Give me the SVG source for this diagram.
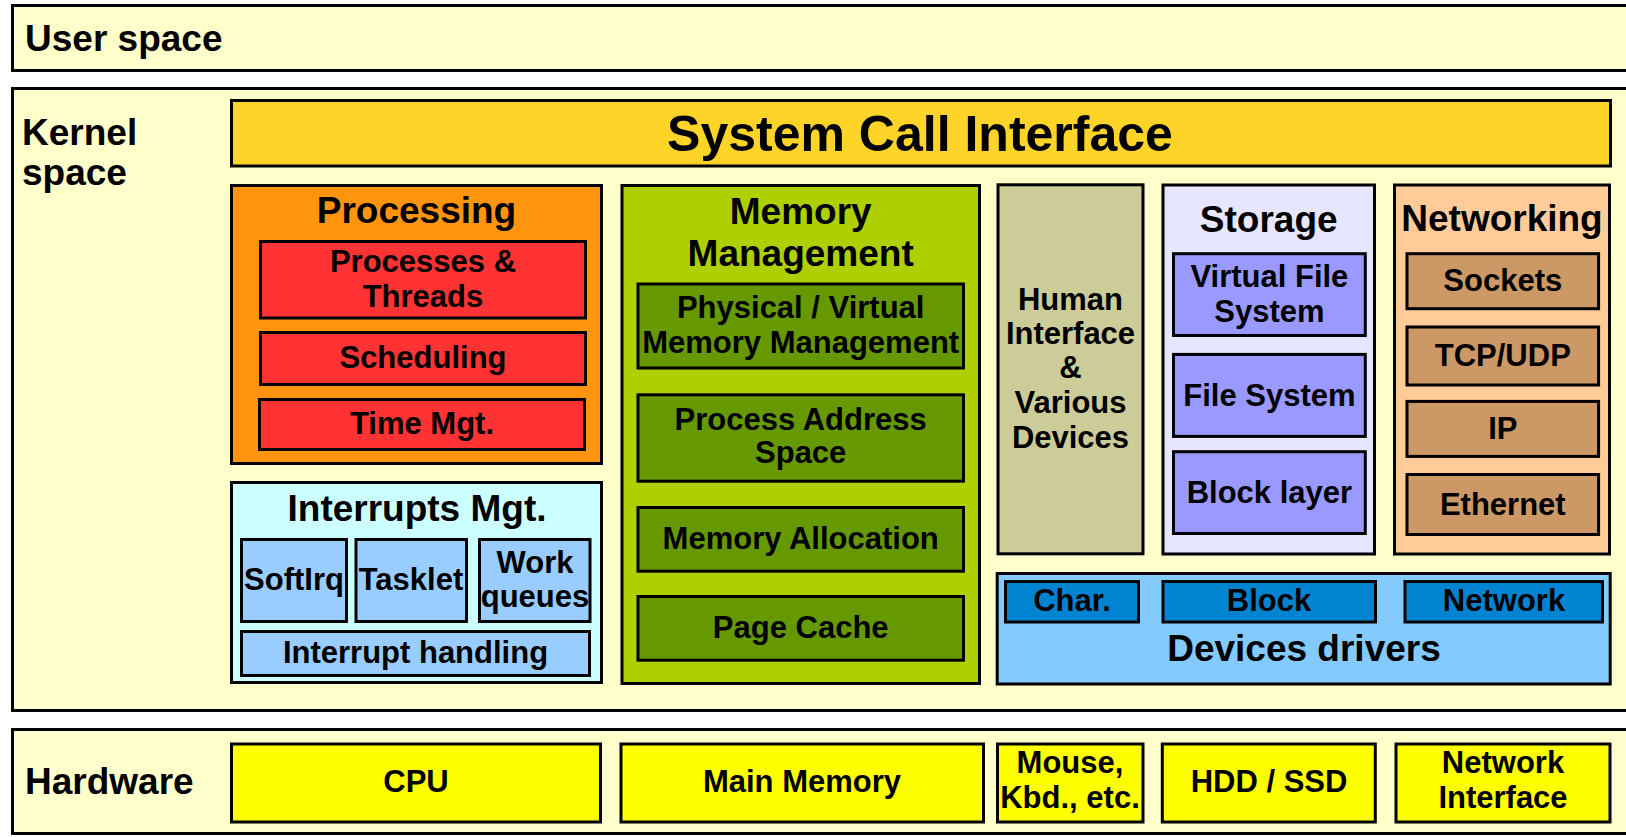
<svg xmlns="http://www.w3.org/2000/svg" width="1626" height="837" viewBox="0 0 1626 837">
<style>
rect{stroke:#000;stroke-width:3}
text{font-family:"Liberation Sans",Arial,sans-serif;font-weight:bold;fill:#000;text-anchor:middle}
.t{font-size:37px}
.l{text-anchor:start}
.s{font-size:31px}
.bg{fill:#ffffcc}
.sci{fill:#ffd428}
.proc{fill:#ff950e}
.procs{fill:#ff3333}
.irq{fill:#ccffff}
.irqs{fill:#99ccff}
.mem{fill:#aecf00}
.mems{fill:#669900}
.hid{fill:#cccc99}
.sto{fill:#e6e6ff}
.stos{fill:#9999ff}
.net{fill:#ffcc99}
.nets{fill:#cc9966}
.drv{fill:#83caff}
.drvs{fill:#0084d1}
.hw{fill:#ffff00}
</style>
<rect x="0" y="0" width="1626" height="837" fill="#fff" style="stroke:none"/>

<g id="user-space">
<rect class="bg" x="12.5" y="5.5" width="1640" height="65"/>
<text class="t l" x="25" y="50.5">User space</text>
</g>

<g id="kernel-space">
<rect class="bg" x="12.5" y="88.5" width="1640" height="622"/>
<text class="t l" x="22" y="145">Kernel</text>
<text class="t l" x="22" y="184.5">space</text>
</g>

<g id="system-call-interface">
<rect class="sci" x="231.5" y="100.5" width="1379" height="65.5"/>
<text x="920" y="151" style="font-size:50px">System Call Interface</text>
</g>

<g id="processing">
<rect class="proc" x="231.5" y="185.5" width="370" height="278"/>
<text class="t" x="416.5" y="223">Processing</text>
</g>
<g id="processes-threads">
<rect class="procs" x="260.5" y="241.5" width="325" height="76.5"/>
<text class="s" x="423" y="272">Processes &amp;</text>
<text class="s" x="423" y="307">Threads</text>
</g>
<g id="scheduling">
<rect class="procs" x="260.5" y="332.5" width="325" height="52"/>
<text class="s" x="423" y="368">Scheduling</text>
</g>
<g id="time-mgt">
<rect class="procs" x="259.5" y="399.5" width="325" height="50"/>
<text class="s" x="422" y="434">Time Mgt.</text>
</g>

<g id="interrupts-mgt">
<rect class="irq" x="231.5" y="482.5" width="370" height="200"/>
<text class="t" x="417" y="521">Interrupts Mgt.</text>
</g>
<g id="softirq">
<rect class="irqs" x="241.5" y="539.5" width="105" height="82"/>
<text class="s" x="294" y="590">SoftIrq</text>
</g>
<g id="tasklet">
<rect class="irqs" x="356" y="539.5" width="110.5" height="82"/>
<text class="s" x="411" y="590">Tasklet</text>
</g>
<g id="work-queues">
<rect class="irqs" x="479.5" y="539.5" width="110.5" height="82"/>
<text class="s" x="535" y="573">Work</text>
<text class="s" x="535" y="607">queues</text>
</g>
<g id="interrupt-handling">
<rect class="irqs" x="241.5" y="631.5" width="348" height="44"/>
<text class="s" x="415.5" y="663">Interrupt handling</text>
</g>

<g id="memory-management">
<rect class="mem" x="622" y="185.5" width="357.5" height="498"/>
<text class="t" x="800.7" y="224">Memory</text>
<text class="t" x="800.7" y="266">Management</text>
</g>
<g id="physical-virtual-memory">
<rect class="mems" x="638" y="284" width="325.5" height="84"/>
<text class="s" x="800.7" y="318">Physical / Virtual</text>
<text class="s" x="800.7" y="353">Memory Management</text>
</g>
<g id="process-address-space">
<rect class="mems" x="638" y="394.8" width="325.5" height="86.4"/>
<text class="s" x="800.7" y="430">Process Address</text>
<text class="s" x="800.7" y="463">Space</text>
</g>
<g id="memory-allocation">
<rect class="mems" x="638" y="507.5" width="325.5" height="63.7"/>
<text class="s" x="800.7" y="549">Memory Allocation</text>
</g>
<g id="page-cache">
<rect class="mems" x="638" y="596.5" width="325.5" height="63.7"/>
<text class="s" x="800.7" y="638">Page Cache</text>
</g>

<g id="human-interface">
<rect class="hid" x="998" y="184.8" width="145" height="369"/>
<text class="s" x="1070.5" y="310">Human</text>
<text class="s" x="1070.5" y="344">Interface</text>
<text class="s" x="1070.5" y="378">&amp;</text>
<text class="s" x="1070.5" y="413">Various</text>
<text class="s" x="1070.5" y="448">Devices</text>
</g>

<g id="storage">
<rect class="sto" x="1163" y="185" width="211.5" height="369"/>
<text class="t" x="1268.7" y="232">Storage</text>
</g>
<g id="virtual-file-system">
<rect class="stos" x="1173.5" y="253.7" width="191.8" height="81.8"/>
<text class="s" x="1269.4" y="287">Virtual File</text>
<text class="s" x="1269.4" y="322">System</text>
</g>
<g id="file-system">
<rect class="stos" x="1173.5" y="354.4" width="191.8" height="82"/>
<text class="s" x="1269.4" y="405.5">File System</text>
</g>
<g id="block-layer">
<rect class="stos" x="1173.5" y="451.7" width="191.8" height="81.8"/>
<text class="s" x="1269.4" y="503">Block layer</text>
</g>

<g id="networking">
<rect class="net" x="1394.5" y="185" width="215" height="369"/>
<text class="t" x="1502" y="230.5">Networking</text>
</g>
<g id="sockets">
<rect class="nets" x="1407" y="253.7" width="191.6" height="55"/>
<text class="s" x="1502.8" y="291">Sockets</text>
</g>
<g id="tcp-udp">
<rect class="nets" x="1407" y="327" width="191.6" height="58"/>
<text class="s" x="1502.8" y="366">TCP/UDP</text>
</g>
<g id="ip">
<rect class="nets" x="1407" y="401.4" width="191.6" height="55"/>
<text class="s" x="1502.8" y="439">IP</text>
</g>
<g id="ethernet">
<rect class="nets" x="1407" y="474.5" width="191.6" height="60"/>
<text class="s" x="1502.8" y="515">Ethernet</text>
</g>

<g id="devices-drivers">
<rect class="drv" x="997.2" y="573.5" width="613" height="110.5"/>
<text class="t" x="1304" y="661">Devices drivers</text>
</g>
<g id="drv-char">
<rect class="drvs" x="1005.5" y="581.5" width="133" height="40.5"/>
<text class="s" x="1072" y="611">Char.</text>
</g>
<g id="drv-block">
<rect class="drvs" x="1163" y="581.5" width="212.5" height="40.5"/>
<text class="s" x="1269" y="611">Block</text>
</g>
<g id="drv-network">
<rect class="drvs" x="1405" y="581.5" width="197.5" height="40.5"/>
<text class="s" x="1504" y="611">Network</text>
</g>

<g id="hardware">
<rect class="bg" x="12.5" y="729.5" width="1640" height="104"/>
<text class="t l" x="25" y="794">Hardware</text>
</g>
<g id="hw-cpu">
<rect class="hw" x="231.5" y="744" width="369" height="78"/>
<text class="s" x="416" y="792">CPU</text>
</g>
<g id="hw-main-memory">
<rect class="hw" x="621" y="744" width="362.5" height="78"/>
<text class="s" x="802" y="792">Main Memory</text>
</g>
<g id="hw-mouse">
<rect class="hw" x="997.5" y="744" width="145.5" height="78"/>
<text class="s" x="1070" y="773">Mouse,</text>
<text class="s" x="1070" y="808">Kbd., etc.</text>
</g>
<g id="hw-hdd">
<rect class="hw" x="1162.3" y="744" width="213" height="78"/>
<text class="s" x="1269" y="792">HDD / SSD</text>
</g>
<g id="hw-network-interface">
<rect class="hw" x="1396" y="744" width="214" height="78"/>
<text class="s" x="1503" y="773">Network</text>
<text class="s" x="1503" y="808">Interface</text>
</g>
</svg>
